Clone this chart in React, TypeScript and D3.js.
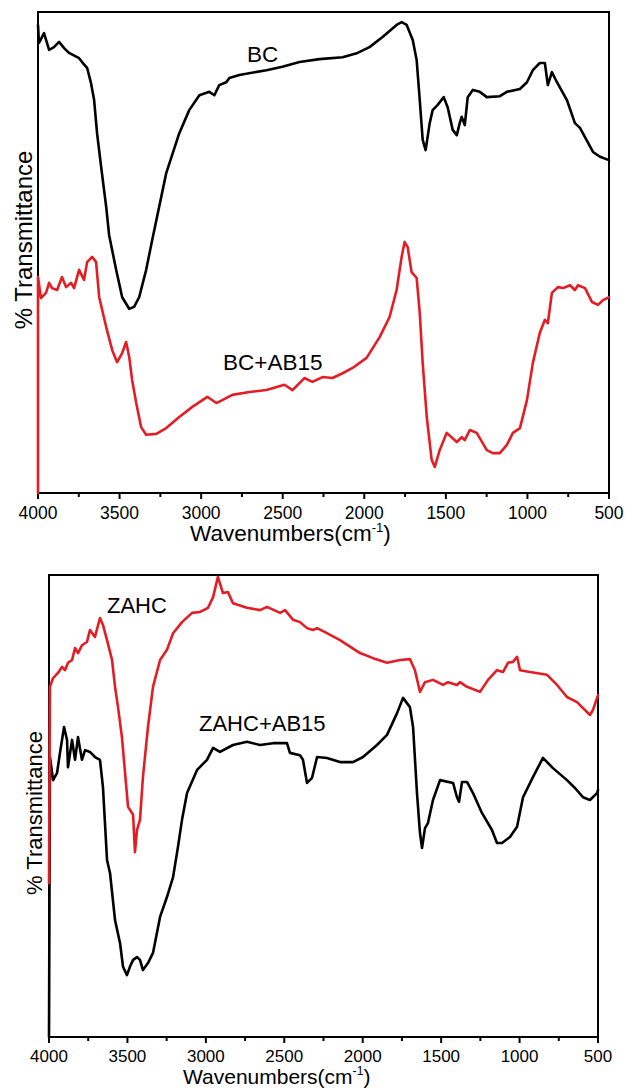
import React from "react";
import * as d3 from "d3";

// ---- Data: [wavenumber (cm-1), transmittance (a.u., 0-100)] ----
const BC: [number, number][] = [
  [4000, 97.3], [3994, 93.6], [3963, 95.6], [3932, 92.1], [3902, 92.7], [3871, 93.8], [3840, 92.5],
  [3810, 91.5], [3748, 90.4], [3730, 89.6], [3699, 88.4], [3675, 85.2], [3656, 81.7], [3638, 74.8],
  [3613, 67.8], [3582, 59.5], [3564, 53.6], [3521, 46.4], [3484, 40.7], [3441, 38.3], [3411, 38.7],
  [3380, 40.7], [3337, 46.4], [3300, 52.6], [3214, 66.5], [3134, 74.8], [3073, 79.6], [3011, 82.7],
  [2950, 83.4], [2919, 82.7], [2889, 84.8], [2846, 85.4], [2827, 86.3], [2766, 86.9], [2600, 87.9],
  [2502, 88.6], [2397, 89.6], [2275, 90.2], [2133, 90.6], [2041, 91.5], [1968, 92.7], [1888, 94.8],
  [1802, 97.3], [1771, 97.9], [1740, 97.3], [1703, 94.2], [1679, 90.0], [1660, 81.7], [1642, 73.4],
  [1624, 71.3], [1599, 76.9], [1581, 79.6], [1550, 80.7], [1513, 82.3], [1489, 80.2], [1458, 75.5],
  [1433, 74.4], [1415, 76.9], [1403, 78.2], [1384, 76.5], [1366, 82.3], [1335, 83.8], [1292, 83.4],
  [1249, 82.3], [1169, 82.5], [1126, 83.4], [1046, 84.0], [1003, 85.4], [967, 87.9], [924, 89.4],
  [893, 89.4], [875, 84.8], [850, 87.5], [819, 85.4], [758, 81.7], [709, 76.9], [678, 75.9],
  [598, 70.9], [555, 69.9], [500, 69.2],
];

const BC_AB15: [number, number][] = [
  [4000, 0], [4000, 44.9], [3982, 40.5], [3951, 41.6], [3932, 43.7], [3914, 42.6], [3883, 42.2],
  [3853, 44.9], [3828, 42.8], [3797, 43.7], [3779, 42.6], [3748, 46.4], [3718, 44.3], [3699, 48.0],
  [3668, 49.1], [3644, 48.0], [3625, 40.7], [3582, 34.5], [3545, 29.7], [3515, 27.2], [3484, 29.1],
  [3460, 31.4], [3441, 28.3], [3423, 23.5], [3398, 18.7], [3368, 13.7], [3337, 12.1], [3275, 12.3],
  [3214, 13.5], [3134, 15.8], [3054, 17.9], [2962, 20.0], [2907, 18.7], [2870, 19.3], [2809, 20.4],
  [2704, 21.0], [2600, 21.4], [2489, 22.5], [2440, 21.4], [2367, 23.9], [2318, 23.1], [2256, 24.1],
  [2195, 23.9], [2133, 24.9], [2072, 26.0], [1986, 28.1], [1906, 32.4], [1845, 36.6], [1802, 42.2],
  [1771, 49.1], [1753, 52.2], [1734, 51.1], [1710, 45.9], [1679, 44.7], [1660, 37.4], [1642, 27.0],
  [1617, 15.8], [1587, 6.9], [1568, 5.4], [1538, 8.9], [1495, 12.5], [1433, 10.6], [1403, 11.6],
  [1384, 11.0], [1353, 13.1], [1311, 12.5], [1249, 8.9], [1212, 8.3], [1169, 8.3], [1126, 10.0],
  [1089, 12.5], [1046, 13.5], [1003, 19.3], [967, 27.0], [924, 33.3], [893, 36.0], [875, 35.3],
  [850, 41.6], [813, 42.8], [782, 42.6], [739, 43.2], [709, 42.2], [690, 43.2], [647, 42.6],
  [604, 39.7], [567, 39.1], [537, 40.1], [500, 40.7],
];

const ZAHC: [number, number][] = [
  [4000, 33.3], [3994, 75.8], [3974, 77.7], [3943, 78.8], [3917, 80.1], [3898, 79.4], [3879, 81.0],
  [3853, 81.6], [3834, 84.2], [3815, 83.1], [3790, 84.8], [3758, 85.5], [3739, 88.1], [3707, 86.6],
  [3675, 90.7], [3656, 89.2], [3630, 85.9], [3598, 81.6], [3579, 75.8], [3560, 71.4], [3535, 64.9],
  [3515, 57.1], [3496, 49.8], [3464, 48.1], [3452, 40.0], [3439, 44.8], [3420, 47.0], [3401, 56.3],
  [3369, 67.1], [3337, 75.8], [3292, 81.6], [3248, 83.8], [3209, 87.4], [3152, 89.8], [3088, 91.8],
  [3037, 92.0], [2986, 92.9], [2954, 95.2], [2923, 99.6], [2891, 96.1], [2859, 96.3], [2827, 93.9],
  [2738, 92.9], [2655, 92.4], [2610, 93.1], [2527, 91.8], [2495, 92.4], [2444, 90.3], [2400, 89.8],
  [2355, 88.5], [2317, 88.1], [2291, 88.5], [2228, 87.4], [2145, 85.9], [2017, 83.1], [1934, 82.0],
  [1845, 81.0], [1762, 81.6], [1699, 81.8], [1667, 79.4], [1635, 74.7], [1603, 76.8], [1552, 77.3],
  [1488, 76.2], [1456, 76.8], [1399, 76.2], [1380, 76.8], [1335, 75.8], [1252, 74.7], [1201, 77.3],
  [1144, 79.4], [1106, 79.0], [1074, 81.0], [1042, 81.2], [1016, 82.3], [997, 79.4], [934, 79.0],
  [825, 78.4], [761, 76.2], [698, 73.6], [634, 72.5], [551, 69.7], [532, 70.8], [506, 73.4],
  [500, 74.0],
];

const ZAHC_AB15: [number, number][] = [
  [4000, 0], [3994, 60.6], [3974, 55.6], [3949, 57.1], [3930, 61.5], [3904, 67.1], [3885, 64.3],
  [3879, 58.4], [3853, 64.3], [3834, 60.0], [3815, 64.9], [3790, 60.0], [3770, 62.1], [3739, 61.7],
  [3707, 60.6], [3675, 60.0], [3656, 54.1], [3630, 38.3], [3611, 35.5], [3579, 25.3], [3547, 20.3],
  [3528, 15.2], [3503, 13.4], [3484, 15.2], [3464, 16.7], [3439, 17.3], [3420, 16.7], [3401, 14.5],
  [3369, 16.0], [3337, 18.2], [3292, 26.0], [3248, 30.3], [3209, 34.6], [3178, 41.1], [3152, 47.0],
  [3120, 52.8], [3056, 57.8], [2993, 60.0], [2954, 62.6], [2910, 61.7], [2827, 63.2], [2738, 63.9],
  [2655, 63.2], [2572, 63.6], [2483, 63.6], [2464, 61.5], [2400, 61.0], [2381, 60.0], [2355, 55.0],
  [2323, 56.1], [2291, 60.6], [2228, 60.4], [2145, 59.5], [2062, 59.5], [1998, 60.6], [1909, 63.2],
  [1845, 65.4], [1781, 70.1], [1743, 73.4], [1699, 71.4], [1679, 67.1], [1654, 52.8], [1635, 44.2],
  [1622, 40.9], [1603, 45.2], [1584, 46.3], [1552, 51.3], [1507, 55.6], [1424, 55.0], [1399, 51.9],
  [1386, 50.9], [1367, 55.2], [1335, 55.2], [1297, 52.8], [1240, 48.5], [1176, 44.8], [1144, 42.0],
  [1112, 42.0], [1061, 43.3], [1016, 45.5], [978, 51.9], [914, 56.3], [851, 60.4], [787, 58.2],
  [698, 55.6], [647, 53.9], [596, 51.9], [551, 51.3], [506, 52.8], [500, 53.5],
];

const X_TICKS = [4000, 3500, 3000, 2500, 2000, 1500, 1000, 500];
const X_MINOR = [3750, 3250, 2750, 2250, 1750, 1250, 750];

const RED = "#e41d25";
const FONT = "'Liberation Sans', Arial, Helvetica, sans-serif";

type Series = { data: [number, number][]; color: string; label: string; lx: number; ly: number };

type PanelProps = {
  left: number; right: number; top: number; bottom: number;
  series: Series[];
  tickFont: number; titleFont: number; yFont: number; annFont: number;
  tickBase: number; titleBase: number; titleX: number;
  yLabelX: number; yLabelY: number;
};

function Panel(p: PanelProps) {
  const x = d3.scaleLinear().domain([4000, 500]).range([p.left, p.right]);
  const y = d3.scaleLinear().domain([0, 100]).range([p.bottom, p.top]);
  const line = d3.line<[number, number]>().x((d) => x(d[0])).y((d) => y(d[1]));
  return (
    <g>
      <rect x={p.left} y={p.top} width={p.right - p.left} height={p.bottom - p.top}
        fill="none" stroke="#000" strokeWidth={2} />
      {X_TICKS.map((t) => (
        <g key={"M" + t}>
          <line x1={x(t)} x2={x(t)} y1={p.bottom} y2={p.bottom + 6} stroke="#000" strokeWidth={2} />
          <text x={x(t)} y={p.tickBase} textAnchor="middle" fontSize={p.tickFont} fontFamily={FONT}>{t}</text>
        </g>
      ))}
      {X_MINOR.map((t) => (
        <line key={"m" + t} x1={x(t)} x2={x(t)} y1={p.bottom} y2={p.bottom + 4} stroke="#000" strokeWidth={2} />
      ))}
      {p.series.map((s, i) => (
        <path key={i} d={line(s.data) || ""} fill="none" stroke={s.color} strokeWidth={2.6}
          strokeLinejoin="round" strokeLinecap="round" />
      ))}
      {p.series.map((s, i) => (
        <text key={"l" + i} x={s.lx} y={s.ly} fontSize={p.annFont} fontFamily={FONT}>{s.label}</text>
      ))}
      <text x={p.titleX} y={p.titleBase} fontSize={p.titleFont} fontFamily={FONT}>
        Wavenumbers(cm<tspan fontSize={p.titleFont * 0.58} dy={-p.titleFont * 0.42}>-1</tspan>
        <tspan dy={p.titleFont * 0.42}>)</tspan>
      </text>
      <text transform={`translate(${p.yLabelX},${p.yLabelY}) rotate(-90)`} textAnchor="middle"
        fontSize={p.yFont} fontFamily={FONT}>% Transmittance</text>
    </g>
  );
}

export default function App() {
  return (
    <svg width={627} height={1090} style={{ position: "absolute", left: 0, top: 0, background: "#fff" }}>
      <rect x={0} y={0} width={627} height={1090} fill="#fff" />
      <Panel left={38} right={609} top={12} bottom={493}
        series={[
          { data: BC, color: "#000", label: "BC", lx: 247, ly: 62 },
          { data: BC_AB15, color: RED, label: "BC+AB15", lx: 223, ly: 370 },
        ]}
        tickFont={17.5} titleFont={22.5} yFont={24} annFont={22.5}
        tickBase={519} titleBase={541} titleX={190}
        yLabelX={32} yLabelY={240} />
      <Panel left={49} right={598} top={575} bottom={1037}
        series={[
          { data: ZAHC_AB15, color: "#000", label: "ZAHC+AB15", lx: 199, ly: 731 },
          { data: ZAHC, color: RED, label: "ZAHC", lx: 107, ly: 613 },
        ]}
        tickFont={17} titleFont={21} yFont={22} annFont={22}
        tickBase={1062} titleBase={1084} titleX={183}
        yLabelX={42} yLabelY={813} />
    </svg>
  );
}
